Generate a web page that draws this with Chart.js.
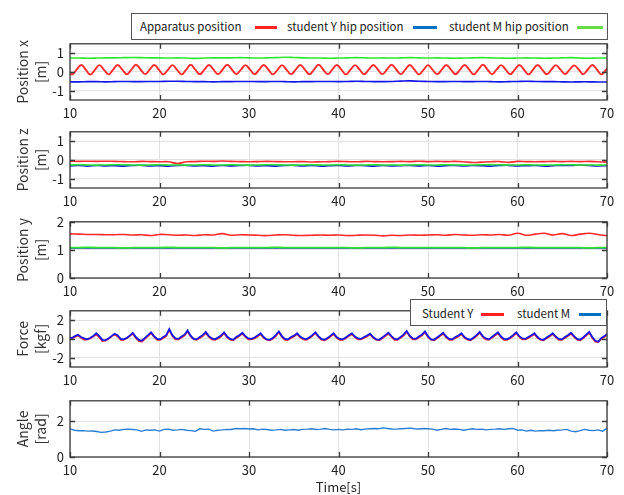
<!DOCTYPE html>
<html><head><meta charset="utf-8">
<script src="https://cdn.jsdelivr.net/npm/chart.js@4/dist/chart.umd.min.js"></script>
<style>
html,body{margin:0;padding:0;background:#fff;}
#wrap{position:relative;width:624px;height:495px;overflow:hidden;font-family:"Noto Sans CJK JP","Noto Sans",sans-serif;}
canvas{position:absolute;left:0;}
.lg{position:absolute;background:#fff;border:1px solid #555;box-sizing:border-box;z-index:5;}
.lg span{position:absolute;font-size:11.5px;color:#222;white-space:nowrap;line-height:14px;}
.lg i{position:absolute;height:3px;display:block;}
</style></head>
<body><div id="wrap">
<canvas id="c1" width="624" height="94" style="top:30px"></canvas>
<canvas id="c2" width="624" height="94" style="top:118px"></canvas>
<canvas id="c3" width="624" height="94" style="top:208px"></canvas>
<canvas id="c4" width="624" height="94" style="top:297px"></canvas>
<canvas id="c5" width="624" height="110" style="top:387px"></canvas>
<div class="lg" style="left:131px;top:13px;width:477px;height:27px;">
  <span style="left:8px;top:5px">Apparatus position</span><i style="left:123px;top:12px;width:22px;background:#ff2020"></i>
  <span style="left:155px;top:5px">student Y hip position</span><i style="left:281px;top:12px;width:24px;background:#0070c0"></i>
  <span style="left:317px;top:5px">student M hip position</span><i style="left:445px;top:12px;width:26px;background:#66dd44"></i>
</div>
<div class="lg" style="left:410px;top:299px;width:197px;height:27px;">
  <span style="left:11px;top:6px">Student Y</span><i style="left:70px;top:13px;width:23px;background:#ff2020"></i>
  <span style="left:106px;top:6px">student M</span><i style="left:168px;top:13px;width:22px;background:#0070c0"></i>
</div>
</div>
<script>
// ---- data ----
const xTickVals = [10,20,30,40,50,60,70];
// time grids (s)
const swingT0 = 9.72, swingDt = 0.51;   // apparatus x samples
const forceT0 = 9.874, forceDt = 0.34;  // force samples
const angleT0 = 10, angleDt = 0.5;
const slowT0 = 10, slowDt = 1;

// Position x
const posXApparatus = [
0.12,-0.13,0.12,0.37, 0.12,-0.14,0.11,0.36, 0.11,-0.13,0.12,0.37, 0.12,-0.12,0.12,0.38,
0.13,-0.12,0.12,0.37, 0.12,-0.13,0.11,0.36, 0.11,-0.13,0.12,0.38, 0.12,-0.12,0.12,0.37,
0.12,-0.12,0.13,0.38, 0.13,-0.11,0.12,0.36, 0.12,-0.12,0.12,0.37, 0.12,-0.13,0.11,0.36,
0.11,-0.12,0.12,0.37, 0.12,-0.12,0.12,0.38, 0.13,-0.12,0.12,0.37, 0.12,-0.13,0.12,0.36,
0.12,-0.12,0.12,0.37, 0.12,-0.12,0.13,0.38, 0.13,-0.12,0.12,0.37, 0.12,-0.13,0.11,0.36,
0.11,-0.12,0.12,0.37, 0.12,-0.12,0.12,0.37, 0.12,-0.13,0.12,0.38, 0.13,-0.12,0.12,0.36,
0.12,-0.12,0.12,0.37, 0.12,-0.13,0.12,0.37, 0.12,-0.12,0.12,0.36, 0.12,-0.11,0.12,0.35,
0.13,-0.12,0.13,0.37, 0.12,-0.13,0.12,0.36];
const posXStudentY = [
-0.53,-0.53,-0.52,-0.52,-0.53,-0.52,-0.51,-0.52,-0.52,-0.51,
-0.51,-0.5,-0.5,-0.51,-0.52,-0.52,-0.53,-0.52,-0.52,-0.51,
-0.51,-0.52,-0.52,-0.51,-0.52,-0.53,-0.52,-0.52,-0.51,-0.51,
-0.52,-0.51,-0.5,-0.51,-0.52,-0.52,-0.51,-0.49,-0.48,-0.5,
-0.51,-0.52,-0.52,-0.51,-0.52,-0.52,-0.51,-0.52,-0.53,-0.52,
-0.51,-0.5,-0.51,-0.52,-0.52,-0.53,-0.54,-0.53,-0.53,-0.54,-0.54];
const posXStudentM = [
0.74,0.74,0.73,0.74,0.75,0.75,0.76,0.77,0.76,0.75,
0.75,0.74,0.75,0.74,0.72,0.74,0.75,0.75,0.75,0.76,
0.75,0.74,0.75,0.76,0.78,0.77,0.75,0.74,0.74,0.73,
0.74,0.75,0.76,0.75,0.74,0.75,0.74,0.75,0.76,0.75,
0.74,0.75,0.74,0.73,0.74,0.75,0.76,0.75,0.74,0.73,
0.74,0.75,0.74,0.73,0.74,0.75,0.76,0.74,0.73,0.74,0.74];

// Position z
const posZApparatus = [
-0.07,-0.08,-0.07,-0.08,-0.07,-0.08,-0.09,-0.1,-0.08,-0.09,
-0.1,-0.1,-0.19,-0.1,-0.09,-0.07,-0.08,-0.06,-0.08,-0.09,
-0.1,-0.09,-0.08,-0.09,-0.1,-0.1,-0.09,-0.11,-0.1,-0.09,
-0.08,-0.09,-0.1,-0.08,-0.09,-0.1,-0.09,-0.08,-0.09,-0.07,
-0.09,-0.08,-0.09,-0.08,-0.1,-0.14,-0.12,-0.1,-0.09,-0.13,
-0.08,-0.09,-0.1,-0.09,-0.08,-0.09,-0.08,-0.09,-0.08,-0.1,-0.12];
const posZStudentY = [
-0.32,-0.3,-0.33,-0.29,-0.32,-0.31,-0.33,-0.3,-0.29,-0.32,
-0.31,-0.33,-0.3,-0.29,-0.32,-0.31,-0.33,-0.3,-0.32,-0.3,
-0.29,-0.32,-0.31,-0.33,-0.3,-0.29,-0.32,-0.3,-0.33,-0.31,
-0.3,-0.32,-0.29,-0.31,-0.33,-0.3,-0.32,-0.31,-0.29,-0.32,
-0.3,-0.33,-0.31,-0.29,-0.32,-0.3,-0.31,-0.33,-0.3,-0.29,
-0.32,-0.31,-0.3,-0.33,-0.31,-0.29,-0.3,-0.27,-0.3,-0.32,-0.31];
const posZStudentM = [
-0.27,-0.26,-0.27,-0.28,-0.27,-0.26,-0.26,-0.27,-0.28,-0.27,
-0.26,-0.27,-0.27,-0.28,-0.27,-0.26,-0.27,-0.27,-0.26,-0.27,
-0.28,-0.27,-0.26,-0.26,-0.27,-0.28,-0.27,-0.26,-0.27,-0.27,
-0.26,-0.27,-0.28,-0.27,-0.26,-0.27,-0.27,-0.28,-0.27,-0.26,
-0.27,-0.27,-0.26,-0.27,-0.28,-0.27,-0.26,-0.25,-0.26,-0.27,
-0.27,-0.26,-0.27,-0.28,-0.27,-0.26,-0.26,-0.27,-0.27,-0.28,-0.27];

// Position y
const posYApparatus = [
1.57,1.56,1.55,1.55,1.54,1.54,1.55,1.53,1.54,1.51,
1.55,1.54,1.52,1.53,1.51,1.54,1.53,1.58,1.52,1.54,
1.53,1.52,1.51,1.53,1.54,1.52,1.51,1.52,1.53,1.52,
1.53,1.51,1.52,1.53,1.52,1.5,1.52,1.51,1.53,1.52,
1.53,1.54,1.52,1.55,1.53,1.52,1.54,1.53,1.55,1.52,
1.59,1.52,1.56,1.59,1.53,1.58,1.51,1.56,1.59,1.55,1.5];
const posYStudentY = [
1.07,1.07,1.07,1.07,1.07,1.07,1.07,1.07,1.07,1.07,
1.07,1.07,1.07,1.07,1.07,1.07,1.07,1.07,1.07,1.07,
1.07,1.07,1.07,1.07,1.07,1.07,1.07,1.07,1.07,1.07,
1.07,1.07,1.07,1.07,1.07,1.07,1.07,1.07,1.07,1.07,
1.07,1.07,1.07,1.07,1.07,1.07,1.07,1.07,1.07,1.07,
1.07,1.07,1.07,1.07,1.07,1.07,1.07,1.07,1.07,1.07,1.07];
const posYStudentM = [
1.08,1.08,1.09,1.08,1.08,1.08,1.07,1.08,1.08,1.08,
1.08,1.09,1.08,1.08,1.08,1.08,1.08,1.07,1.08,1.08,
1.08,1.08,1.08,1.09,1.08,1.08,1.08,1.08,1.08,1.08,
1.08,1.08,1.07,1.08,1.08,1.08,1.09,1.08,1.08,1.08,
1.08,1.08,1.08,1.08,1.08,1.07,1.08,1.08,1.08,1.08,
1.08,1.09,1.08,1.08,1.08,1.08,1.08,1.08,1.07,1.08,1.08];

// Force [kgf]
const forceStudentM = [
0.15,0.1,0.3,
0.45,0.2,0.05,-0.05,0.1,0.3,
0.6,0.3,-0.1,-0.15,0.05,0.3,
0.55,0.4,0.0,-0.05,0.1,0.35,
0.65,0.2,-0.1,-0.2,0.1,0.4,
0.7,0.3,0.0,-0.05,0.2,0.4,
1.05,0.4,0.05,0.0,0.25,0.45,
0.9,0.35,0.0,-0.05,0.2,0.4,
0.75,0.3,0.05,-0.05,0.15,0.35,
0.7,0.25,0.0,-0.1,0.2,0.4,
0.65,0.3,0.05,0.0,0.15,0.35,
0.6,0.2,-0.05,-0.1,0.1,0.4,
0.8,0.3,0.0,-0.05,0.2,0.35,
0.6,0.25,0.05,-0.05,0.15,0.4,
0.7,0.3,0.0,-0.1,0.1,0.35,
0.6,0.2,0.0,-0.05,0.15,0.4,
0.6,0.25,0.05,0.0,0.2,0.35,
0.55,0.2,-0.05,-0.1,0.15,0.4,
0.65,0.3,0.0,-0.05,0.2,0.45,
0.85,0.35,0.05,0.0,0.25,0.45,
0.8,0.3,-0.05,-0.1,0.15,0.4,
0.65,0.25,0.0,-0.05,0.2,0.35,
0.6,0.2,0.0,-0.1,0.15,0.4,
0.75,0.3,0.05,-0.05,0.2,0.45,
0.7,0.25,0.0,-0.05,0.15,0.4,
0.7,0.3,0.05,0.0,0.2,0.4,
0.6,0.2,-0.05,-0.1,0.15,0.35,
0.6,0.25,0.0,-0.05,0.2,0.4,
0.65,0.3,0.0,-0.1,0.15,0.45,
0.75,0.2,-0.2,-0.3,0.1,0.3,
0.55];
const forceStudentY = [
0.1,0.05,0.2,
0.35,0.1,-0.1,-0.05,0.05,0.25,
0.45,0.15,-0.25,-0.2,0.0,0.25,
0.45,0.25,-0.1,-0.1,0.05,0.3,
0.55,0.1,-0.25,-0.3,0.0,0.3,
0.6,0.2,-0.1,-0.1,0.1,0.3,
0.95,0.3,-0.05,-0.05,0.15,0.35,
0.8,0.25,-0.05,-0.1,0.1,0.3,
0.6,0.2,-0.05,-0.1,0.05,0.25,
0.6,0.15,-0.1,-0.15,0.1,0.3,
0.55,0.2,-0.05,-0.05,0.05,0.25,
0.5,0.1,-0.1,-0.15,0.0,0.3,
0.7,0.2,-0.1,-0.1,0.1,0.25,
0.5,0.15,-0.05,-0.1,0.05,0.3,
0.6,0.2,-0.1,-0.15,0.0,0.25,
0.5,0.1,-0.1,-0.1,0.05,0.3,
0.5,0.15,-0.05,-0.05,0.1,0.25,
0.45,0.1,-0.1,-0.15,0.05,0.3,
0.55,0.2,-0.1,-0.1,0.1,0.35,
0.75,0.25,-0.05,-0.05,0.15,0.35,
0.7,0.2,-0.1,-0.15,0.05,0.3,
0.55,0.15,-0.1,-0.1,0.1,0.25,
0.5,0.1,-0.1,-0.15,0.05,0.3,
0.65,0.2,-0.05,-0.1,0.1,0.35,
0.6,0.15,-0.1,-0.1,0.05,0.3,
0.6,0.2,-0.05,-0.05,0.1,0.3,
0.5,0.1,-0.1,-0.15,0.05,0.25,
0.5,0.15,-0.1,-0.1,0.1,0.3,
0.55,0.2,-0.1,-0.15,0.05,0.35,
0.65,0.1,-0.3,-0.35,0.0,0.2,
0.45];

// Angle [rad]
const angle = [
1.58,1.5,1.47,1.48,1.45,1.46,1.43,1.38,1.40,1.45,
1.52,1.50,1.55,1.56,1.54,1.52,1.44,1.52,1.50,1.52,
1.45,1.55,1.56,1.50,1.52,1.55,1.50,1.48,1.44,1.58,
1.55,1.56,1.45,1.50,1.52,1.55,1.54,1.60,1.58,1.60,
1.57,1.58,1.52,1.56,1.54,1.50,1.52,1.55,1.50,1.52,
1.54,1.50,1.55,1.56,1.58,1.54,1.56,1.60,1.55,1.52,
1.55,1.52,1.56,1.55,1.58,1.53,1.56,1.58,1.60,1.58,
1.63,1.60,1.57,1.56,1.58,1.60,1.62,1.58,1.57,1.60,
1.58,1.56,1.50,1.55,1.60,1.55,1.57,1.55,1.50,1.55,
1.58,1.55,1.56,1.52,1.55,1.56,1.58,1.55,1.58,1.60,
1.50,1.52,1.45,1.50,1.45,1.48,1.47,1.50,1.47,1.50,
1.52,1.55,1.45,1.42,1.48,1.55,1.50,1.48,1.52,1.45,1.60];

// ---- helpers ----
const FF = '"Noto Sans CJK JP","Noto Sans",sans-serif';
Chart.defaults.font.family = FF;
Chart.defaults.color = '#222';
const RED = '#ff2a2a', BLUE = '#1414e6', GREEN = '#2ee62e', ANG = '#2a7fd4';

function series(t0, dt, vals){ return vals.map((v,i)=>({x: +(t0 + i*dt).toFixed(3), y: v})); }

const frame = {
  id: 'frame',
  afterDraw(chart){
    const {ctx, chartArea: a, scales: {x, y}} = chart;
    ctx.save();
    ctx.strokeStyle = '#3a3a3a'; ctx.lineWidth = 1.3;
    ctx.beginPath();
    x.ticks.forEach(t => { const p = Math.round(x.getPixelForValue(t.value)) + 0.5;
      ctx.moveTo(p, a.bottom); ctx.lineTo(p, a.bottom - 5);
      ctx.moveTo(p, a.top); ctx.lineTo(p, a.top + 5); });
    y.ticks.forEach(t => { const p = Math.round(y.getPixelForValue(t.value)) + 0.5;
      ctx.moveTo(a.left, p); ctx.lineTo(a.left + 5, p);
      ctx.moveTo(a.right, p); ctx.lineTo(a.right - 5, p); });
    ctx.stroke();
    ctx.strokeRect(a.left, a.top, a.right - a.left, a.bottom - a.top);
    ctx.restore();
  }
};

function panel(id, yMin, yMax, yTickVals, yTitle, datasets, xTitle){
  const xh = xTitle ? 40 : 24;
  new Chart(document.getElementById(id), {
    type: 'line',
    data: { datasets },
    options: {
      responsive: false, animation: false, devicePixelRatio: 1,
      layout: { padding: { top: 10, right: 17, left: 0, bottom: 0 } },
      plugins: { legend: { display: false }, tooltip: { enabled: false } },
      elements: { point: { radius: 0 } },
      scales: {
        x: {
          type: 'linear', min: 10, max: 70,
          afterBuildTicks: s => { s.ticks = xTickVals.map(v => ({ value: v })); },
          afterFit: s => { s.height = xh; },
          grid: { color: '#e2e2e2', drawTicks: false },
          border: { display: false },
          ticks: { padding: 5, font: { size: 13 }, color: '#222' },
          title: xTitle ? { display: true, text: xTitle, font: { size: 13 }, color: '#222', padding: { top: 0, bottom: 2 } } : { display: false }
        },
        y: {
          min: yMin, max: yMax,
          afterBuildTicks: s => { s.ticks = yTickVals.map(v => ({ value: v })); },
          afterFit: s => { s.width = 70; },
          grid: { color: '#e2e2e2', drawTicks: false },
          border: { display: false },
          ticks: { padding: 6, font: { size: 13 }, color: '#222' },
          title: { display: true, text: yTitle, font: { size: 14, lineHeight: 1.25 }, color: '#333', padding: { top: 14, bottom: 0 } }
        }
      }
    },
    plugins: [frame]
  });
}

function ds(data, color, w, extra){ return Object.assign({ data, borderColor: color, borderWidth: w, pointRadius: 0, fill: false, tension: 0 }, extra || {}); }

panel('c1', -1.5, 1.5, [-1, 0, 1], ['Position x', '[m]'], [
  ds(series(slowT0, slowDt, posXStudentM), GREEN, 1.6, { tension: 0.4 }),
  ds(series(slowT0, slowDt, posXStudentY), BLUE, 1.6, { tension: 0.4 }),
  ds(series(swingT0, swingDt, posXApparatus), RED, 1.9, { tension: 0.45 })
]);
panel('c2', -1.5, 1.5, [-1, 0, 1], ['Position z', '[m]'], [
  ds(series(slowT0, slowDt, posZStudentM), GREEN, 1.6, { tension: 0.4 }),
  ds(series(slowT0, slowDt, posZStudentY), BLUE, 1.6, { tension: 0.4 }),
  ds(series(slowT0, slowDt, posZApparatus), RED, 1.6, { tension: 0.4 })
]);
panel('c3', 0, 2, [0, 1, 2], ['Position y', '[m]'], [
  ds(series(slowT0, slowDt, posYStudentM), GREEN, 1.8, { tension: 0.4 }),
  ds(series(slowT0, slowDt, posYStudentY), BLUE, 1.6, { tension: 0.4 }),
  ds(series(slowT0, slowDt, posYApparatus), RED, 1.6, { tension: 0.4 })
]);
panel('c4', -3, 3, [-2, 0, 2], ['Force', '[kgf]'], [
  ds(series(forceT0, forceDt, forceStudentM), BLUE, 1.8),
  ds(series(forceT0, forceDt, forceStudentY), RED, 1.6)
]);
panel('c5', 0, 3.15, [0, 2], ['Angle', '[rad]'], [
  ds(series(angleT0, angleDt, angle), ANG, 1.4)
], 'Time[s]');
</script>
</body></html>
